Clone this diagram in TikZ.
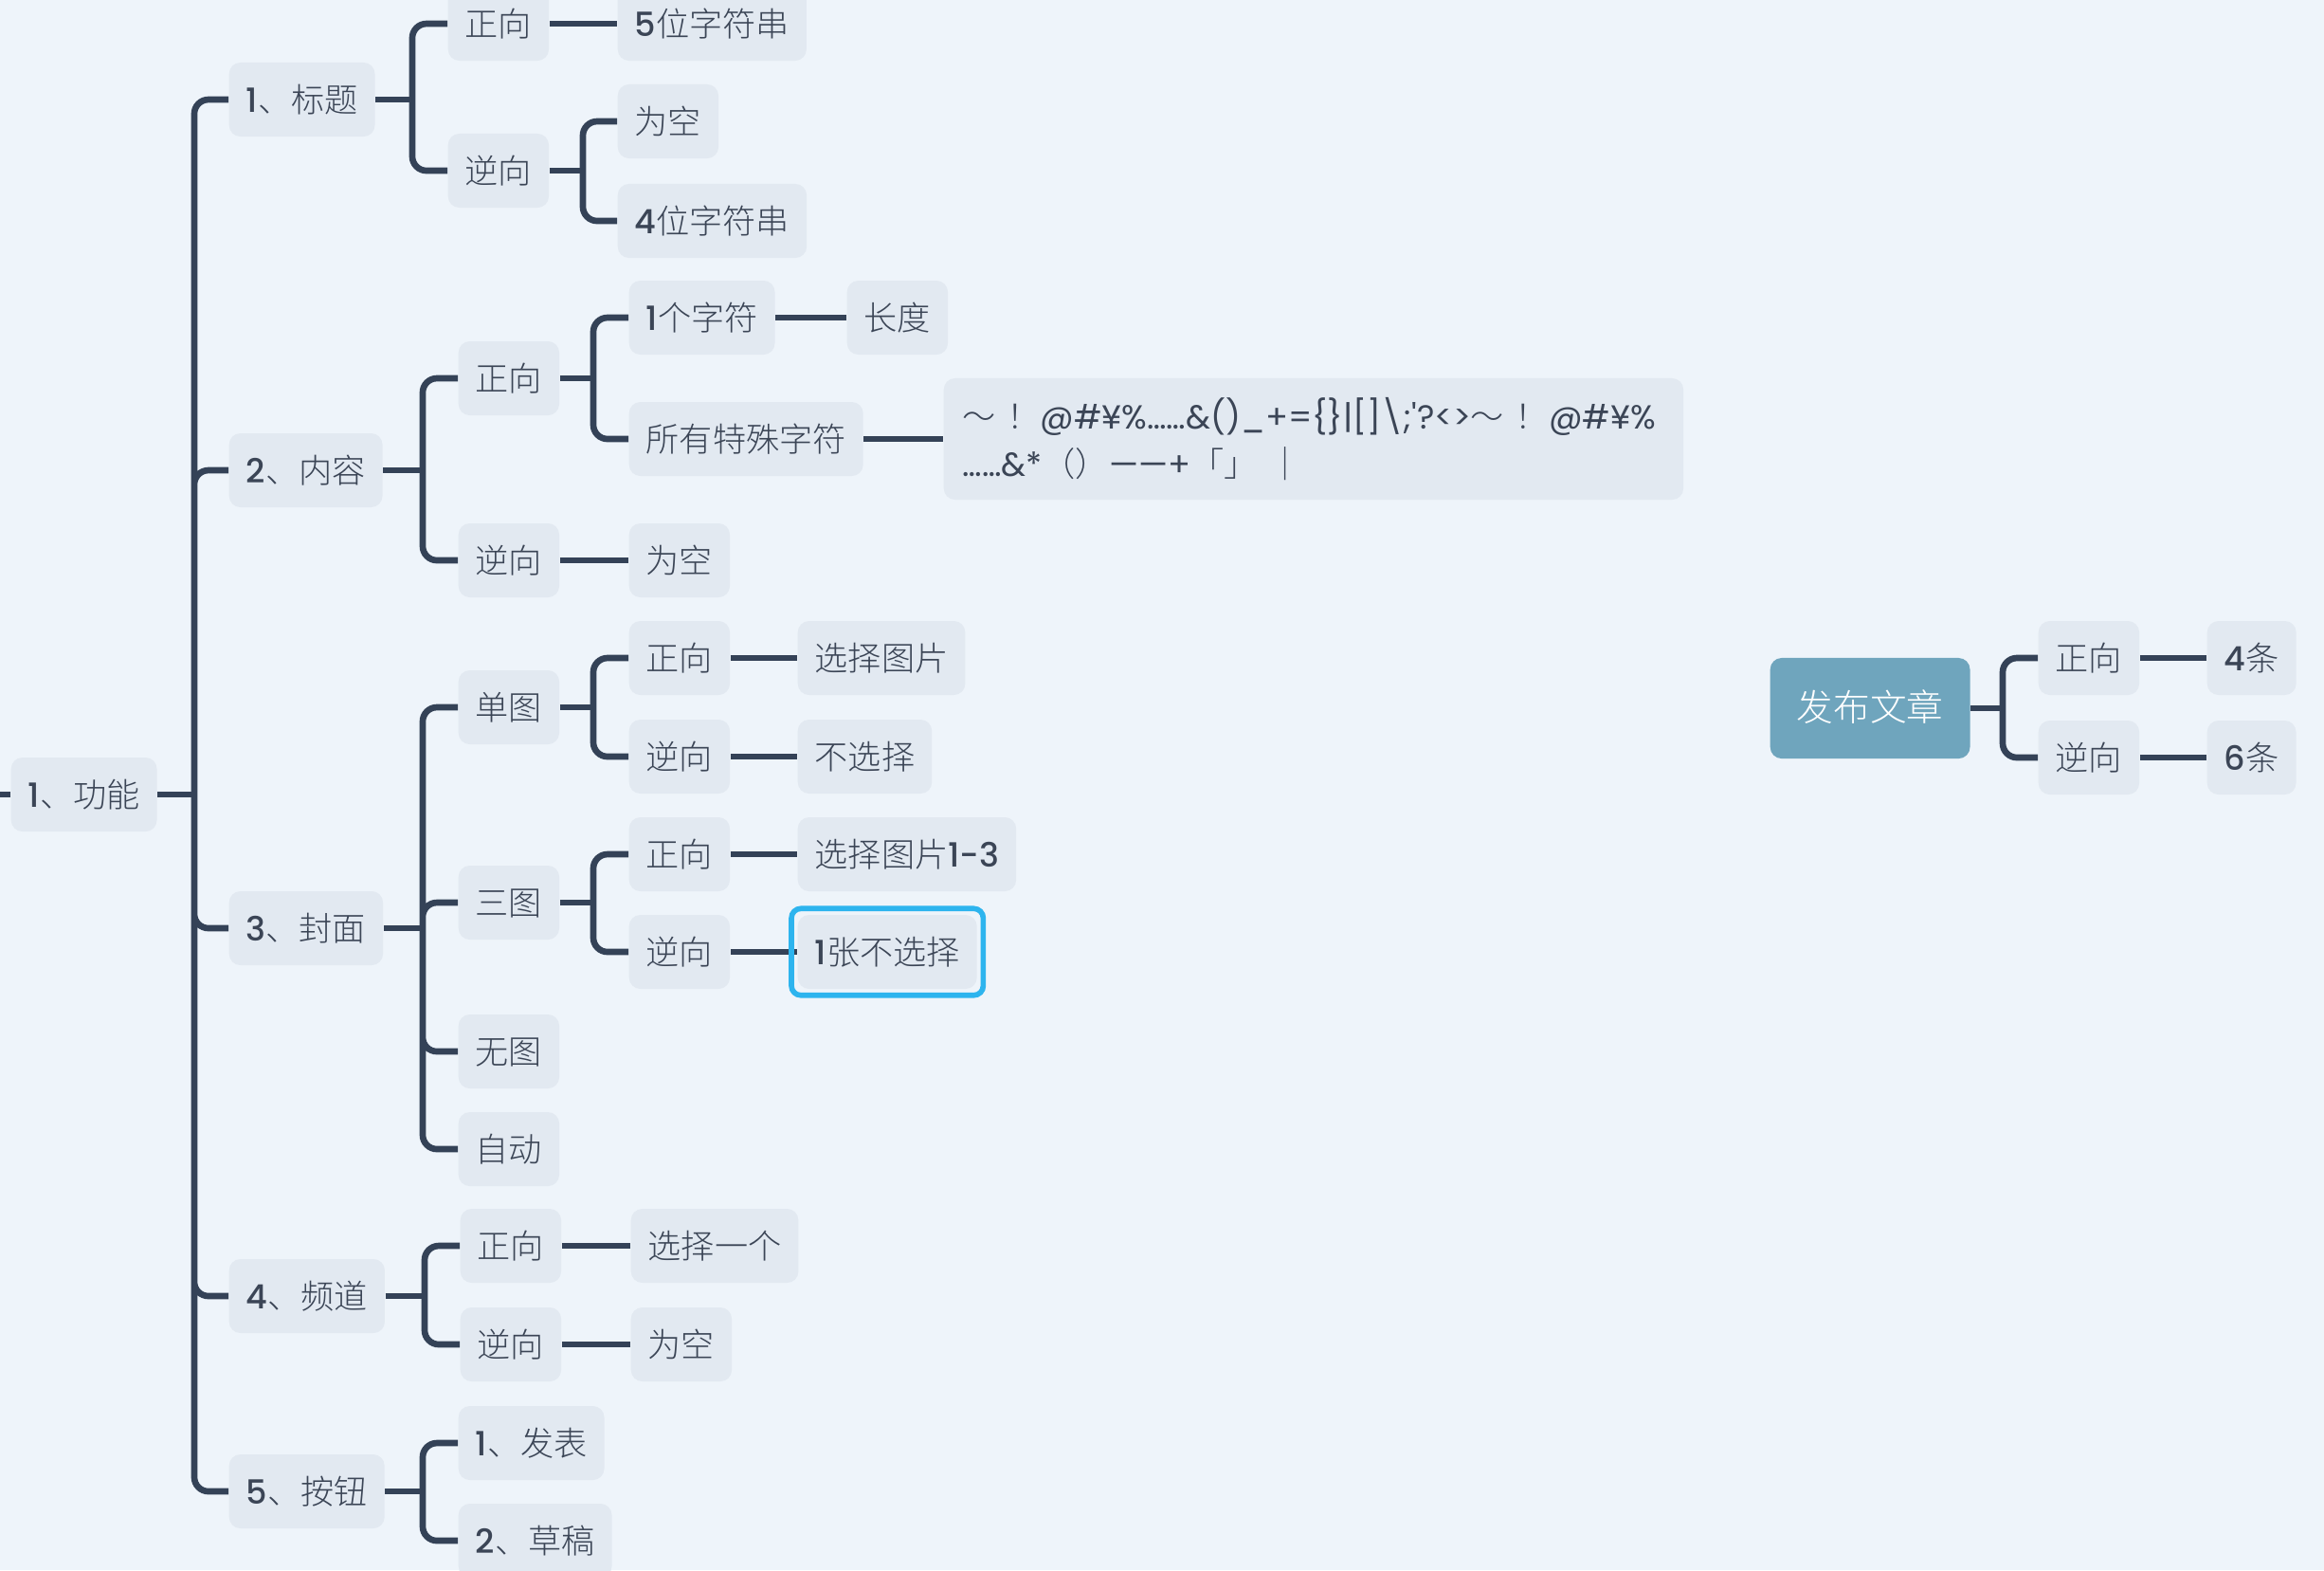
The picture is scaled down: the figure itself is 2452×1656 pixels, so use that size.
\documentclass[tikz,border=0pt]{standalone}
\usepackage{fontspec}
\setmainfont{Noto Sans CJK SC}[UprightFont=* Light]
\newfontfamily\latf{Poppins}[UprightFont=* Medium]
\newfontfamily\latr{Poppins}
\newcommand\nm[1]{{\latf #1}}
\newcommand\sy[1]{{\latr #1}}
\usepackage{xcolor}
\usetikzlibrary{fit}
\definecolor{bgc}{HTML}{EEF4FA}
\definecolor{boxc}{HTML}{E2E9F1}
\definecolor{linec}{HTML}{344257}
\definecolor{textc}{HTML}{3B4556}
\definecolor{rootc}{HTML}{6FA5BD}
\definecolor{hlc}{HTML}{2DB4EE}

\begin{document}
\begin{tikzpicture}[x=0.01cm, y=-0.01cm,
  every node/.style={font=\fontsize{10}{14}\selectfont, text=textc},
  box/.style={fill=boxc, rounded corners=0.12cm, anchor=west, minimum height=0.78cm,
    inner xsep=0.18cm, text height=0.85em, text depth=0.1em},
  rootbox/.style={box, fill=rootc, text=white, minimum height=1.06cm, inner xsep=0.28cm,
    font=\fontsize{11}{14}\selectfont},
  link/.style={draw=linec, line width=1.9pt},
  brace/.style={link, rounded corners=0.15cm},
  hl/.style={draw=hlc, line width=1.6pt, rounded corners=0.1cm, inner sep=0.06cm}]
\fill[bgc] (0,0) rectangle (2452,1656);
\useasboundingbox (0,0) rectangle (2452,1656);

% main topic
\node[box] (func) at (11,838) {\nm{1}、功能};
\coordinate (edge) at (0,838);
\draw[link] (edge) -- (func.west);

\node[box] (title) at (241,105) {\nm{1}、标题};
\node[box] (content) at (241,496) {\nm{2}、内容};
\node[box] (cover) at (241,979) {\nm{3}、封面};
\node[box] (channel) at (241,1367) {\nm{4}、频道};
\node[box] (button) at (241,1573) {\nm{5}、按钮};
\draw[link] (func.east) -- ([xshift=-0.36cm]title.west |- func.east) coordinate (fj);
\draw[brace] (fj) |- (title.west) (fj) |- (content.west) (fj) |- (cover.west)
  (fj) |- (channel.west) (fj) |- (button.west);

% 1 title
\node[box] (t-fwd) at (472,25) {正向};
\node[box] (t-rev) at (472,180) {逆向};
\node[box] (t-fwd-a) at (651,25) {\nm{5}位字符串};
\node[box] (t-rev-a) at (651,128) {为空};
\node[box] (t-rev-b) at (651,233) {\nm{4}位字符串};
\draw[link] (title.east) -- ([xshift=-0.37cm]t-fwd.west |- title.east) coordinate (tj);
\draw[brace] (tj) |- (t-fwd.west) (tj) |- (t-rev.west);
\draw[link] (t-fwd.east) -- (t-fwd-a.west);
\draw[link] (t-rev.east) -- ([xshift=-0.36cm]t-rev-a.west |- t-rev.east) coordinate (trj);
\draw[brace] (trj) |- (t-rev-a.west) (trj) |- (t-rev-b.west);

% 2 content
\node[box] (c-fwd) at (483,399) {正向};
\node[box] (c-rev) at (483,591) {逆向};
\node[box] (c-len) at (663,335) {\nm{1}个字符};
\node[box] (c-len-a) at (893,335) {长度};
\node[box] (c-sym) at (663,463) {所有特殊字符};
\node[box, align=left, text width=7.4cm, minimum height=1.28cm, inner xsep=0.2cm, text height=, text depth=] (c-sym-a) at (995,463)
  {～~！\sy{@\#¥\%……\&()\_+=\{\}|[]\textbackslash;\textquotesingle?<>}～~！\sy{@\#¥\%}\\
   \sy{……\&*}（）\sy{——+}「」~｜};
\node[box] (c-rev-a) at (663,591) {为空};
\draw[link] (content.east) -- ([xshift=-0.37cm]c-fwd.west |- content.east) coordinate (cj);
\draw[brace] (cj) |- (c-fwd.west) (cj) |- (c-rev.west);
\draw[link] (c-fwd.east) -- ([xshift=-0.37cm]c-len.west |- c-fwd.east) coordinate (cfj);
\draw[brace] (cfj) |- (c-len.west) (cfj) |- (c-sym.west);
\draw[link] (c-len.east) -- (c-len-a.west);
\draw[link] (c-sym.east) -- (c-sym-a.west);
\draw[link] (c-rev.east) -- (c-rev-a.west);

% 3 cover
\node[box] (single) at (483,746) {单图};
\node[box] (triple) at (483,952) {三图};
\node[box] (none) at (483,1109) {无图};
\node[box] (auto) at (483,1212) {自动};
\node[box] (s-fwd) at (663,694) {正向};
\node[box] (s-rev) at (663,798) {逆向};
\node[box] (s-fwd-a) at (841,694) {选择图片};
\node[box] (s-rev-a) at (841,798) {不选择};
\node[box] (m-fwd) at (663,901) {正向};
\node[box] (m-rev) at (663,1004) {逆向};
\node[box] (m-fwd-a) at (841,901) {选择图片\nm{1-3}};
\node[box] (m-rev-a) at (841,1004) {\nm{1}张不选择};
\draw[link] (cover.east) -- ([xshift=-0.37cm]single.west |- cover.east) coordinate (vj);
\draw[brace] (vj) |- (single.west) (vj) |- (triple.west) (vj) |- (none.west) (vj) |- (auto.west);
\draw[link] (single.east) -- ([xshift=-0.37cm]s-fwd.west |- single.east) coordinate (sj);
\draw[brace] (sj) |- (s-fwd.west) (sj) |- (s-rev.west);
\draw[link] (s-fwd.east) -- (s-fwd-a.west);
\draw[link] (s-rev.east) -- (s-rev-a.west);
\draw[link] (triple.east) -- ([xshift=-0.37cm]m-fwd.west |- triple.east) coordinate (mj);
\draw[brace] (mj) |- (m-fwd.west) (mj) |- (m-rev.west);
\draw[link] (m-fwd.east) -- (m-fwd-a.west);
\draw[link] (m-rev.east) -- (m-rev-a.west);
\node[hl, fit=(m-rev-a)] (pick) {};

% 4 channel
\node[box] (h-fwd) at (485,1314) {正向};
\node[box] (h-rev) at (485,1418) {逆向};
\node[box] (h-fwd-a) at (665,1314) {选择一个};
\node[box] (h-rev-a) at (665,1418) {为空};
\draw[link] (channel.east) -- ([xshift=-0.37cm]h-fwd.west |- channel.east) coordinate (hj);
\draw[brace] (hj) |- (h-fwd.west) (hj) |- (h-rev.west);
\draw[link] (h-fwd.east) -- (h-fwd-a.west);
\draw[link] (h-rev.east) -- (h-rev-a.west);

% 5 button
\node[box] (b-pub) at (483,1522) {\nm{1}、发表};
\node[box] (b-draft) at (483,1625) {\nm{2}、草稿};
\draw[link] (button.east) -- ([xshift=-0.37cm]b-pub.west |- button.east) coordinate (bj);
\draw[brace] (bj) |- (b-pub.west) (bj) |- (b-draft.west);

% floating topic
\node[rootbox] (post) at (1867,747) {发布文章};
\node[box] (p-fwd) at (2150,694) {正向};
\node[box] (p-rev) at (2150,799) {逆向};
\node[box] (p-fwd-a) at (2328,694) {\nm{4}条};
\node[box] (p-rev-a) at (2328,799) {\nm{6}条};
\draw[link] (post.east) -- ([xshift=-0.37cm]p-fwd.west |- post.east) coordinate (pj);
\draw[brace] (pj) |- (p-fwd.west) (pj) |- (p-rev.west);
\draw[link] (p-fwd.east) -- (p-fwd-a.west);
\draw[link] (p-rev.east) -- (p-rev-a.west);
\end{tikzpicture}
\end{document}
